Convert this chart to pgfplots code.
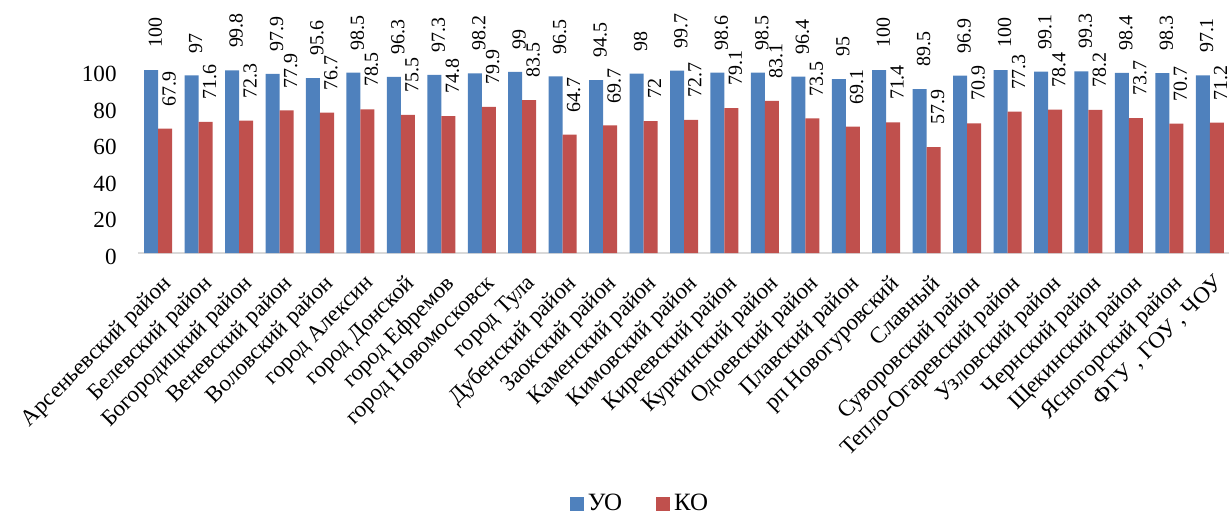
\documentclass[border=0pt]{standalone}
\usepackage{fontspec}
\setmainfont{Liberation Serif}
\usepackage{pgfplots}
\pgfplotsset{compat=1.18}
\usepackage{pgfplotstable}

\definecolor{uo}{HTML}{4F81BD}
\definecolor{ko}{HTML}{C0504D}
\definecolor{axisgray}{HTML}{D9D9D9}

\pgfplotstableread{
idx uo ko
0 100 67.9
1 97 71.6
2 99.8 72.3
3 97.9 77.9
4 95.6 76.7
5 98.5 78.5
6 96.3 75.5
7 97.3 74.8
8 98.2 79.9
9 99 83.5
10 96.5 64.7
11 94.5 69.7
12 98 72
13 99.7 72.7
14 98.6 79.1
15 98.5 83.1
16 96.4 73.5
17 95 69.1
18 100 71.4
19 89.5 57.9
20 96.9 70.9
21 100 77.3
22 99.1 78.4
23 99.3 78.2
24 98.4 73.7
25 98.3 70.7
26 97.1 71.2
}\data

\begin{document}
\begin{tikzpicture}
\useasboundingbox (-69bp,-129bp) rectangle (545.5bp,126.5bp);
\begin{axis}[
  at={(0,0)}, anchor=south west,
  scale only axis,
  width=546bp, height=109.8bp,
  xmin=-0.5, xmax=26.5,
  ymin=0, ymax=120,
  clip=false,
  ybar=0pt, bar width=7bp,
  axis y line*=left,
  axis x line*=bottom,
  y axis line style={draw=none},
  x axis line style={-, draw=axisgray, line width=1.3bp},
  major tick length=0pt,
  ytick={0,20,...,100},
  xtick={0,...,26},
  xticklabels={Арсеньевский район, Белевский район, Богородицкий район,
    Веневский район, Воловский район, город Алексин, город Донской,
    город Ефремов, город Новомосковск, город Тула, Дубенский район,
    Заокский район, Каменский район, Кимовский район, Киреевский район,
    Куркинский район, Одоевский район, Плавский район, рп Новогуровский,
    Славный, Суворовский район, Тепло-Огаревский район, Узловский район,
    Чернский район, Щекинский район, Ясногорский район, {ФГУ , ГОУ , ЧОУ}},
  /pgf/number format/assume math mode=true,
  yticklabel style={font=\fontsize{11.6}{13}\selectfont, anchor=east,
    inner sep=0pt, xshift=-10.5bp, yshift=-2bp},
  xticklabel style={font=\fontsize{11.5}{13}\selectfont, inner sep=0pt,
    xshift=1.5bp, yshift=-10bp, rotate=45, anchor=north east},
  nodes near coords,
  every node near coord/.append style={font=\fontsize{10}{12}\selectfont,
    inner sep=0pt, xshift=2bp, yshift=11bp, rotate=90, anchor=west},
  legend columns=2,
  legend style={at={(0.4606,-1.143)}, anchor=center, draw=none,
    font=\fontsize{12.5}{14}\selectfont,
    nodes={inner xsep=2bp},
    /tikz/every even column/.append style={column sep=15bp}},
  legend image code/.code={\fill[#1] (0bp,-3.5bp) rectangle (7bp,3.5bp);},
]
\addplot[fill=uo, draw=none] table[x=idx, y=uo] {\data};
\addplot[fill=ko, draw=none] table[x=idx, y=ko] {\data};
\legend{УО, КО}
\end{axis}
\end{tikzpicture}
\end{document}
